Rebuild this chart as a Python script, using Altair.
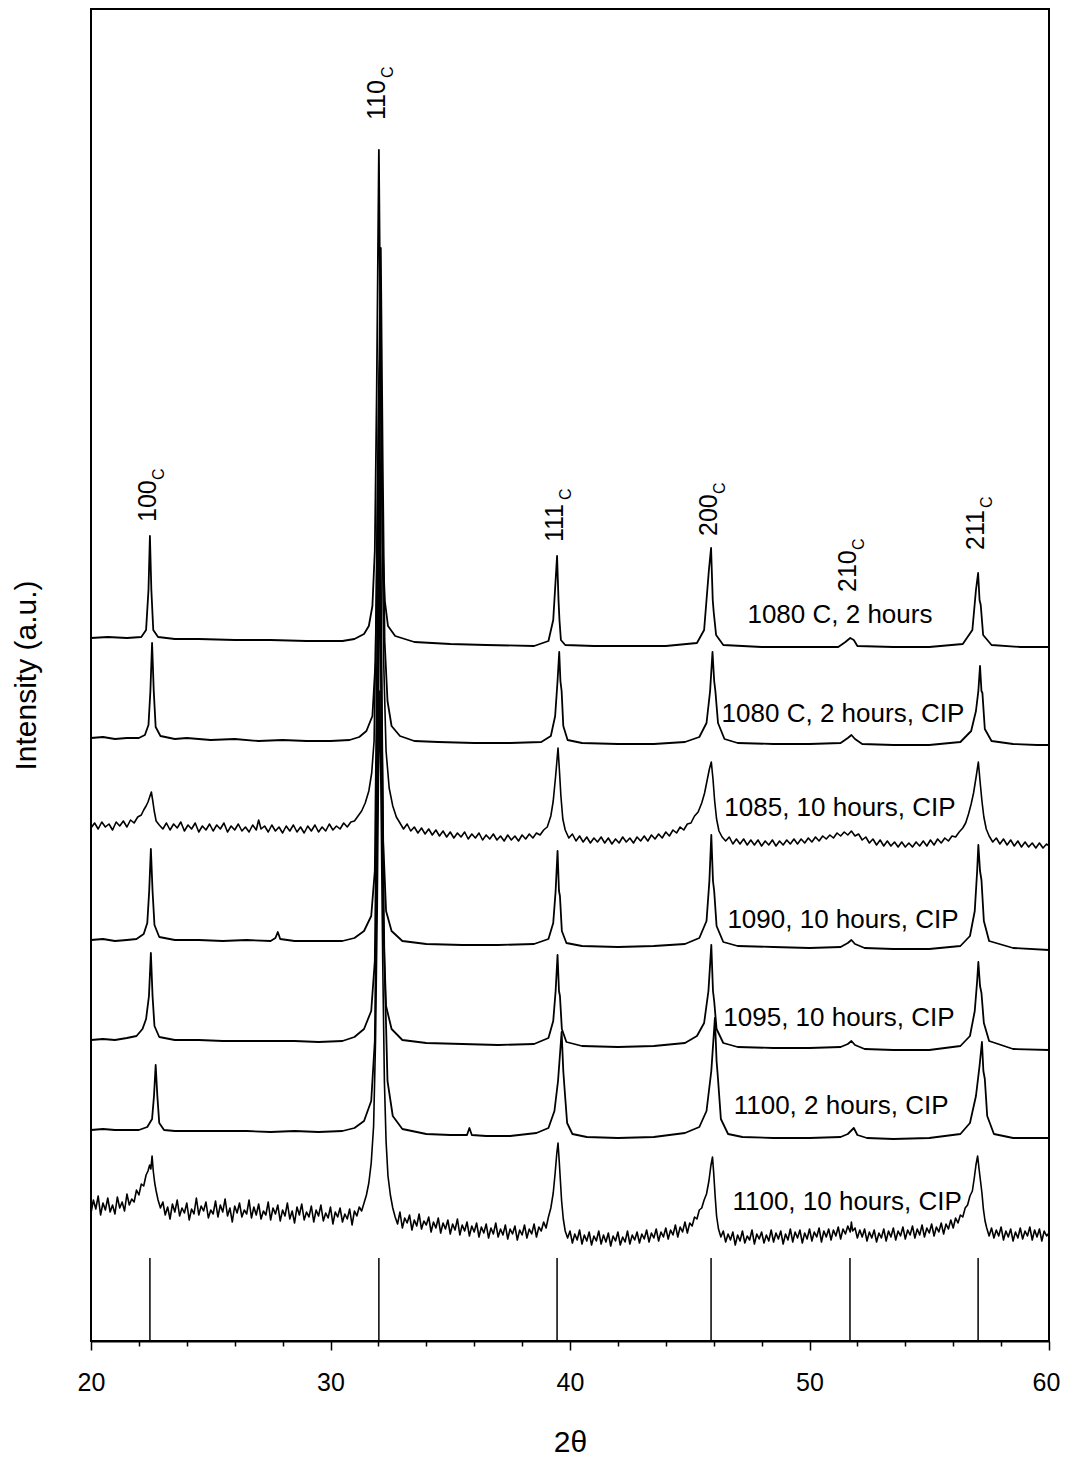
import altair as alt
import pandas as pd

FONT = "Liberation Sans"

# ---------------- data (2theta, intensity a.u., already stacked) ----------------
trace_names = [
    "1080 C, 2 hours",
    "1080 C, 2 hours, CIP",
    "1085, 10 hours, CIP",
    "1090, 10 hours, CIP",
    "1095, 10 hours, CIP",
    "1100, 2 hours, CIP",
    "1100, 10 hours, CIP",
]
trace_label_x = [51.27, 51.40, 51.27, 51.40, 51.23, 51.32, 51.57]
trace_label_v = [726, 627, 533, 421, 323, 235, 139]

t1 = [(20.0,703),(20.7,704),(21.5,703),(22.1,704),(22.3,711),(22.4,751),(22.46,805),(22.52,751),
      (22.6,711),(22.8,704),(23.5,702),(24.5,702),(26.0,701),(27.5,701),(29.0,700),(30.5,700),
      (31.0,702),(31.4,707),(31.6,715),(31.75,735),(31.85,790),(31.93,950),(32.02,1191),(32.1,960),
      (32.17,800),(32.27,740),(32.4,715),(32.7,705),(33.5,699),(35.0,697),(36.5,696),(38.5,695),
      (39.1,700),(39.3,721),(39.46,785),(39.52,741),(39.56,721),(39.62,701),(39.8,696),(41.0,695),
      (42.5,695),(44.0,695),(45.3,698),(45.6,711),(45.8,771),(45.89,793),(45.96,741),(46.0,729),
      (46.1,706),(46.4,696),(48.0,694),(49.5,694),(51.2,694),(51.5,699),(51.7,703),(51.85,701),
      (52.0,695),(53.5,694),(55.0,694),(56.4,697),(56.8,711),(56.95,751),(57.04,768),(57.1,741),
      (57.15,736),(57.25,706),(57.6,696),(58.8,694),(60.0,694)]

t2 = [(20.0,603),(20.5,604),(21.0,602),(21.5,603),(22.0,603),(22.25,606),(22.4,616),(22.48,650),
      (22.55,698),(22.62,650),(22.7,614),(22.9,605),(23.5,602),(24.0,603),(25.0,601),(26.0,602),
      (27.0,600),(28.0,601),(29.0,600),(30.0,600),(30.8,601),(31.2,604),(31.5,610),(31.75,625),
      (31.88,680),(31.98,880),(32.1,1093),(32.18,880),(32.26,700),(32.38,640),(32.55,615),(32.9,605),
      (33.5,600),(34.5,599),(36.0,598),(37.5,598),(38.8,599),(39.2,605),(39.38,625),(39.48,660),
      (39.55,689),(39.6,660),(39.65,650),(39.72,615),(39.9,601),(40.5,598),(42.0,597),(43.5,597),
      (44.8,599),(45.4,604),(45.7,618),(45.85,650),(45.95,689),(46.02,660),(46.07,650),(46.18,618),
      (46.45,602),(47.0,598),(48.5,597),(50.0,597),(51.3,598),(51.6,603),(51.75,606),(51.9,602),
      (52.2,597),(53.5,596),(55.0,596),(56.3,599),(56.75,610),(56.95,630),(57.05,650),(57.12,675),
      (57.18,650),(57.22,648),(57.32,612),(57.6,600),(58.5,597),(59.5,596),(60.0,596)]

t3 = [(20.0,513),(20.15,518),(20.3,512),(20.45,519),(20.6,514),(20.75,517),(20.9,511),(21.05,519),
      (21.2,515),(21.35,520),(21.5,514),(21.65,521),(21.8,518),(21.95,524),(22.1,526),(22.2,531),
      (22.3,535),(22.38,539),(22.45,544),(22.52,549),(22.58,540),(22.64,530),(22.72,520),(22.85,516),
      (23.0,512),(23.15,518),(23.3,511),(23.45,517),(23.6,513),(23.75,519),(23.9,510),(24.05,516),
      (24.2,512),(24.35,518),(24.5,509),(24.65,515),(24.8,511),(24.95,517),(25.1,510),(25.25,516),
      (25.4,512),(25.55,518),(25.7,509),(25.85,515),(26.0,511),(26.15,517),(26.3,510),(26.45,514),
      (26.6,509),(26.75,516),(26.9,511),(27.0,521),(27.1,512),(27.25,515),(27.4,509),(27.55,516),
      (27.7,510),(27.85,514),(28.0,508),(28.15,515),(28.3,510),(28.45,516),(28.6,509),(28.75,514),
      (28.9,508),(29.05,515),(29.2,510),(29.35,516),(29.5,509),(29.65,514),(29.8,510),(29.95,517),
      (30.1,511),(30.25,515),(30.4,512),(30.55,518),(30.7,514),(30.85,519),(31.0,520),(31.15,525),
      (31.3,530),(31.45,538),(31.6,550),(31.72,568),(31.82,600),(31.92,750),(32.02,950),(32.08,1000),
      (32.15,850),(32.22,680),(32.32,590),(32.45,553),(32.6,535),(32.75,524),(32.9,518),(33.05,512),
      (33.2,517),(33.35,510),(33.5,514),(33.65,508),(33.8,513),(33.95,507),(34.1,512),(34.25,506),
      (34.4,511),(34.55,505),(34.7,510),(34.85,504),(35.0,509),(35.15,503),(35.3,508),(35.45,504),
      (35.6,509),(35.75,502),(35.9,507),(36.05,503),(36.2,508),(36.35,501),(36.5,506),(36.65,502),
      (36.8,507),(36.95,501),(37.1,505),(37.25,500),(37.4,506),(37.55,501),(37.7,505),(37.85,500),
      (38.0,506),(38.15,502),(38.3,507),(38.45,503),(38.6,508),(38.75,506),(38.9,511),(39.05,514),
      (39.2,525),(39.3,540),(39.4,565),(39.5,593),(39.56,570),(39.62,545),(39.7,522),(39.8,511),
      (39.95,503),(40.1,507),(40.25,500),(40.4,505),(40.55,499),(40.7,504),(40.85,498),(41.0,503),
      (41.15,499),(41.3,504),(41.45,498),(41.6,503),(41.75,497),(41.9,502),(42.05,498),(42.2,504),
      (42.35,499),(42.5,503),(42.65,498),(42.8,504),(42.95,500),(43.1,505),(43.25,500),(43.4,506),
      (43.55,502),(43.7,507),(43.85,503),(44.0,509),(44.15,505),(44.3,511),(44.45,508),(44.6,514),
      (44.75,511),(44.9,517),(45.05,518),(45.2,525),(45.35,529),(45.5,538),(45.62,548),(45.72,560),
      (45.82,572),(45.9,579),(45.97,562),(46.04,540),(46.12,522),(46.22,510),(46.35,504),(46.5,500),
      (46.65,504),(46.8,497),(46.95,502),(47.1,497),(47.25,502),(47.4,496),(47.55,501),(47.7,496),
      (47.85,501),(48.0,495),(48.15,500),(48.3,496),(48.45,501),(48.6,495),(48.75,500),(48.9,496),
      (49.05,501),(49.2,497),(49.35,502),(49.5,497),(49.65,502),(49.8,498),(49.95,503),(50.1,499),
      (50.25,504),(50.4,500),(50.55,505),(50.7,502),(50.85,506),(51.0,503),(51.15,508),(51.3,505),
      (51.45,509),(51.6,506),(51.75,510),(51.9,505),(52.05,507),(52.2,501),(52.35,504),(52.5,498),
      (52.65,502),(52.8,496),(52.95,501),(53.1,495),(53.25,500),(53.4,495),(53.55,499),(53.7,494),
      (53.85,499),(54.0,494),(54.15,498),(54.3,494),(54.45,499),(54.6,495),(54.75,500),(54.9,495),
      (55.05,501),(55.2,496),(55.35,502),(55.5,498),(55.65,503),(55.8,500),(55.95,505),(56.1,504),
      (56.25,509),(56.4,513),(56.52,518),(56.64,527),(56.75,537),(56.85,548),(56.95,563),(57.05,579),
      (57.12,560),(57.2,540),(57.28,524),(57.38,512),(57.5,505),(57.65,499),(57.8,503),(57.95,497),
      (58.1,502),(58.25,496),(58.4,501),(58.55,495),(58.7,500),(58.85,494),(59.0,499),(59.15,494),
      (59.3,498),(59.45,493),(59.6,498),(59.75,493),(59.9,497),(60.0,495)]

t4 = [(20.0,401),(20.5,402),(21.0,400),(21.5,401),(21.9,402),(22.2,407),(22.35,418),(22.43,450),
      (22.5,492),(22.57,450),(22.65,416),(22.85,404),(23.5,401),(24.5,401),(25.5,400),(26.5,401),
      (27.5,400),(27.7,403),(27.8,409),(27.9,402),(28.5,400),(29.5,400),(30.5,400),(31.0,403),
      (31.4,410),(31.7,425),(31.85,470),(31.95,700),(32.05,950),(32.12,700),(32.2,500),(32.32,430),
      (32.55,410),(33.0,400),(34.0,397),(35.5,396),(37.0,396),(38.5,397),(39.1,402),(39.3,418),
      (39.4,450),(39.48,490),(39.54,450),(39.58,445),(39.66,410),(39.85,398),(40.5,395),(42.0,394),
      (43.5,395),(44.8,397),(45.4,403),(45.7,420),(45.82,460),(45.9,506),(45.97,460),(46.02,450),
      (46.12,415),(46.4,399),(47.0,395),(48.5,394),(50.0,393),(51.3,394),(51.6,398),(51.75,401),
      (51.9,397),(52.3,393),(53.5,392),(55.0,392),(56.3,395),(56.7,405),(56.9,430),(57.0,470),
      (57.05,496),(57.12,470),(57.18,461),(57.28,420),(57.5,400),(58.5,393),(60.0,391)]

t5 = [(20.0,301),(20.5,302),(21.0,301),(21.5,303),(21.9,305),(22.15,312),(22.3,322),(22.42,345),
      (22.5,388),(22.57,345),(22.65,315),(22.85,304),(23.5,301),(24.5,301),(25.5,300),(26.5,300),
      (27.5,300),(28.5,300),(29.5,299),(30.5,300),(31.0,304),(31.4,312),(31.7,330),(31.85,380),
      (31.95,600),(32.05,880),(32.12,620),(32.2,420),(32.32,335),(32.55,312),(33.0,301),(34.0,298),
      (35.5,297),(37.0,296),(38.5,297),(39.1,303),(39.3,320),(39.4,350),(39.48,386),(39.54,350),
      (39.58,345),(39.66,312),(39.85,299),(40.5,295),(42.0,294),(43.5,295),(44.8,298),(45.3,305),
      (45.6,318),(45.78,350),(45.9,396),(45.97,350),(46.02,340),(46.12,312),(46.4,298),(47.0,294),
      (48.5,293),(50.0,293),(51.3,294),(51.6,297),(51.75,300),(51.9,296),(52.3,292),(53.5,291),
      (55.0,291),(56.3,295),(56.7,305),(56.9,330),(57.0,360),(57.05,379),(57.12,355),(57.18,348),
      (57.28,318),(57.5,300),(58.5,292),(60.0,291)]

t6 = [(20.0,211),(20.5,212),(21.0,211),(21.5,211),(22.0,211),(22.35,214),(22.55,222),(22.63,245),
      (22.7,276),(22.77,245),(22.85,218),(23.05,211),(23.5,210),(24.5,210),(25.5,210),(26.5,210),
      (27.5,209),(28.5,210),(29.5,209),(30.5,210),(31.0,213),(31.4,220),(31.7,240),(31.85,300),
      (31.95,520),(32.07,800),(32.15,600),(32.25,380),(32.38,260),(32.6,225),(33.0,212),(34.0,207),
      (35.0,206),(35.7,206),(35.8,213),(35.9,206),(36.5,205),(37.5,205),(38.6,208),(39.1,213),
      (39.35,230),(39.5,260),(39.65,309),(39.72,270),(39.78,250),(39.88,218),(40.1,207),(40.7,204),
      (42.0,203),(43.5,204),(44.8,208),(45.4,214),(45.7,230),(45.9,270),(46.05,323),(46.12,280),
      (46.18,262),(46.3,222),(46.6,207),(47.2,204),(48.5,203),(50.0,203),(51.3,204),(51.6,207),
      (51.85,213),(52.0,206),(52.4,203),(53.5,202),(55.0,203),(56.3,207),(56.7,218),(56.95,245),
      (57.1,275),(57.2,299),(57.26,270),(57.32,262),(57.42,225),(57.7,207),(58.5,203),(60.0,203)]

t7 = [(20.0,128),(20.1,141),(20.2,132),(20.3,145),(20.4,126),(20.5,138),(20.6,131),(20.7,143),
      (20.8,129),(20.9,136),(21.0,127),(21.1,144),(21.2,133),(21.3,139),(21.4,130),(21.5,147),
      (21.6,136),(21.7,142),(21.8,139),(21.9,151),(22.0,146),(22.1,157),(22.2,155),(22.3,166),
      (22.38,170),(22.45,176),(22.5,172),(22.55,185),(22.6,170),(22.66,158),(22.72,150),(22.8,141),
      (22.9,133),(23.0,139),(23.1,126),(23.2,134),(23.3,122),(23.4,137),(23.5,129),(23.6,141),
      (23.7,125),(23.8,133),(23.9,128),(24.0,138),(24.1,121),(24.2,132),(24.3,127),(24.4,143),
      (24.5,126),(24.6,135),(24.7,130),(24.8,139),(24.9,123),(25.0,131),(25.1,127),(25.2,140),
      (25.3,124),(25.4,136),(25.5,129),(25.6,142),(25.7,125),(25.8,133),(25.9,119),(26.0,135),
      (26.1,128),(26.2,138),(26.3,124),(26.4,131),(26.5,127),(26.6,141),(26.7,123),(26.8,134),
      (26.9,126),(27.0,137),(27.1,122),(27.2,130),(27.3,126),(27.4,139),(27.5,121),(27.6,133),
      (27.7,127),(27.8,136),(27.9,120),(28.0,131),(28.1,125),(28.2,138),(28.3,122),(28.4,130),
      (28.5,118),(28.6,134),(28.7,126),(28.8,137),(28.9,121),(29.0,129),(29.1,124),(29.2,135),
      (29.3,119),(29.4,131),(29.5,125),(29.6,136),(29.7,120),(29.8,128),(29.9,123),(30.0,134),
      (30.1,117),(30.2,129),(30.3,124),(30.4,133),(30.5,119),(30.6,127),(30.7,122),(30.8,132),
      (30.9,116),(31.0,130),(31.1,125),(31.2,134),(31.3,130),(31.4,138),(31.5,146),(31.6,158),
      (31.7,178),(31.8,215),(31.88,300),(31.95,430),(32.0,560),(32.06,650),(32.12,520),(32.18,380),
      (32.25,260),(32.32,200),(32.4,165),(32.5,146),(32.6,133),(32.7,124),(32.8,117),(32.9,129),
      (33.0,113),(33.1,123),(33.2,118),(33.3,126),(33.4,111),(33.5,121),(33.6,115),(33.7,127),
      (33.8,112),(33.9,120),(34.0,116),(34.1,124),(34.2,109),(34.3,119),(34.4,113),(34.5,123),
      (34.6,108),(34.7,118),(34.8,112),(34.9,121),(35.0,107),(35.1,117),(35.2,111),(35.3,122),
      (35.4,106),(35.5,116),(35.6,110),(35.7,119),(35.8,105),(35.9,115),(36.0,109),(36.1,118),
      (36.2,104),(36.3,114),(36.4,108),(36.5,117),(36.6,103),(36.7,113),(36.8,107),(36.9,118),
      (37.0,104),(37.1,112),(37.2,106),(37.3,116),(37.4,102),(37.5,112),(37.6,107),(37.7,115),
      (37.8,101),(37.9,111),(38.0,106),(38.1,116),(38.2,103),(38.3,112),(38.4,107),(38.5,117),
      (38.6,104),(38.7,114),(38.8,110),(38.9,119),(39.0,113),(39.1,124),(39.2,133),(39.3,148),
      (39.38,168),(39.45,188),(39.5,198),(39.55,180),(39.6,160),(39.65,140),(39.72,122),(39.8,110),
      (39.9,103),(40.0,110),(40.1,98),(40.2,107),(40.3,101),(40.4,111),(40.5,97),(40.6,106),
      (40.7,100),(40.8,109),(40.9,96),(41.0,105),(41.1,100),(41.2,110),(41.3,97),(41.4,106),
      (41.5,99),(41.6,108),(41.7,95),(41.8,105),(41.9,100),(42.0,109),(42.1,96),(42.2,104),
      (42.3,99),(42.4,110),(42.5,97),(42.6,106),(42.7,101),(42.8,109),(42.9,98),(43.0,107),
      (43.1,102),(43.2,111),(43.3,99),(43.4,108),(43.5,103),(43.6,112),(43.7,100),(43.8,109),
      (43.9,104),(44.0,113),(44.1,102),(44.2,111),(44.3,106),(44.4,116),(44.5,104),(44.6,114),
      (44.7,109),(44.8,119),(44.9,108),(45.0,118),(45.1,115),(45.2,124),(45.3,122),(45.4,131),
      (45.5,133),(45.6,141),(45.7,147),(45.8,160),(45.88,175),(45.95,184),(46.0,168),(46.06,145),
      (46.12,125),(46.2,112),(46.3,104),(46.4,110),(46.5,99),(46.6,107),(46.7,101),(46.8,109),
      (46.9,96),(47.0,106),(47.1,100),(47.2,110),(47.3,98),(47.4,105),(47.5,101),(47.6,111),
      (47.7,97),(47.8,107),(47.9,102),(48.0,109),(48.1,98),(48.2,106),(48.3,100),(48.4,111),
      (48.5,99),(48.6,108),(48.7,102),(48.8,110),(48.9,97),(49.0,107),(49.1,101),(49.2,112),
      (49.3,99),(49.4,109),(49.5,103),(49.6,111),(49.7,98),(49.8,108),(49.9,102),(50.0,112),
      (50.1,100),(50.2,109),(50.3,104),(50.4,113),(50.5,99),(50.6,110),(50.7,104),(50.8,112),
      (50.9,101),(51.0,111),(51.1,105),(51.2,114),(51.3,102),(51.4,112),(51.5,107),(51.6,115),
      (51.7,109),(51.75,119),(51.8,110),(51.9,113),(52.0,103),(52.1,111),(52.2,104),(52.3,112),
      (52.4,100),(52.5,109),(52.6,103),(52.7,111),(52.8,99),(52.9,108),(53.0,103),(53.1,112),
      (53.2,100),(53.3,110),(53.4,104),(53.5,113),(53.6,101),(53.7,110),(53.8,105),(53.9,114),
      (54.0,102),(54.1,111),(54.2,106),(54.3,115),(54.4,103),(54.5,112),(54.6,106),(54.7,116),
      (54.8,104),(54.9,113),(55.0,108),(55.1,117),(55.2,105),(55.3,114),(55.4,109),(55.5,118),
      (55.6,107),(55.7,117),(55.8,112),(55.9,121),(56.0,113),(56.1,123),(56.2,118),(56.3,126),
      (56.4,124),(56.5,133),(56.6,136),(56.7,145),(56.8,150),(56.88,163),(56.95,176),(57.02,185),
      (57.08,172),(57.14,160),(57.2,148),(57.26,132),(57.33,120),(57.4,113),(57.5,105),(57.6,113),
      (57.7,103),(57.8,111),(57.9,105),(58.0,114),(58.1,101),(58.2,110),(58.3,104),(58.4,112),
      (58.5,100),(58.6,109),(58.7,103),(58.8,113),(58.9,102),(59.0,110),(59.1,105),(59.2,114),
      (59.3,101),(59.4,111),(59.5,104),(59.6,112),(59.7,100),(59.8,110),(59.9,105),(60.0,108)]

traces = [t1, t2, t3, t4, t5, t6, t7]
trace_width = [1.8, 1.8, 1.6, 1.8, 1.8, 1.8, 1.6]

# reference pattern (sticks at bottom)
ref_pos = [22.46, 32.02, 39.46, 45.89, 51.69, 57.04]
ref_low = [0, 0, 0, 0, 0, 0]
ref_high = [83, 83, 83, 83, 83, 83]

# hkl labels
peak_hkl = ["100", "110", "111", "200", "210", "211"]
peak_label_x = [22.46, 32.02, 39.46, 45.89, 51.69, 57.04]
peak_label_v = [819, 1221, 799, 805, 749, 791]
peak_sub = ["C", "C", "C", "C", "C", "C"]

major_ticks = [20, 30, 40, 50, 60]
minor_ticks = [22, 24, 26, 28, 32, 34, 36, 38, 42, 44, 46, 48, 52, 54, 56, 58]

# ---------------- tables ----------------
rows = []
for name, pts, w in zip(trace_names, traces, trace_width):
    for x, v in pts:
        rows.append({"trace": name, "x": x, "v": v, "w": w})
df = pd.DataFrame(rows)

ref_df = pd.DataFrame({"x": ref_pos, "lo": ref_low, "hi": ref_high})
hkl_df = pd.DataFrame({"x": peak_label_x, "v": peak_label_v, "hkl": peak_hkl, "sub": peak_sub})
lab_df = pd.DataFrame({"x": trace_label_x, "v": trace_label_v, "name": trace_names})
minor_df = pd.DataFrame({"x": minor_ticks})

xscale = alt.Scale(domain=[20, 60], nice=False, zero=False)
yscale = alt.Scale(domain=[0, 1332], nice=False, zero=False)

x_axis = alt.Axis(values=major_ticks, orient="bottom", title="2θ", grid=False,
                  tickSize=9, tickWidth=1.5, tickColor="black",
                  domainColor="black", domainWidth=2,
                  labelFont=FONT, labelFontSize=25, labelColor="black", labelPadding=20,
                  labelOffset={"condition": {"test": "datum.value === 60", "value": -3}, "value": 0},
                  labelFlush=False, titleFont=FONT, titleFontSize=30, titleFontWeight="normal",
                  titleColor="black", titlePadding=32, format="d")
y_axis = alt.Axis(title="Intensity (a.u.)", labels=False, ticks=False, domain=False, grid=False,
                  tickSize=0, titleFont=FONT, titleFontSize=30, titleFontWeight="normal",
                  titleColor="black", titlePadding=50)

lines = alt.Chart(df).mark_line(color="black", strokeJoin="round").encode(
    x=alt.X("x:Q", scale=xscale, axis=x_axis),
    y=alt.Y("v:Q", scale=yscale, axis=y_axis),
    detail="trace:N",
    strokeWidth=alt.StrokeWidth("w:Q", scale=None, legend=None),
    order="x:Q",
)

sticks = alt.Chart(ref_df).mark_rule(color="black", strokeWidth=1.5).encode(
    x=alt.X("x:Q", scale=xscale),
    y=alt.Y("lo:Q", scale=yscale),
    y2="hi:Q",
)

hkl = alt.Chart(hkl_df).mark_text(angle=270, align="left", baseline="alphabetic", dy=6,
                                   font=FONT, fontSize=25, color="black").encode(
    x=alt.X("x:Q", scale=xscale),
    y=alt.Y("v:Q", scale=yscale),
    text="hkl:N",
)

sub = alt.Chart(hkl_df).mark_text(angle=270, align="left", baseline="alphabetic", dx=42, dy=14,
                                   font=FONT, fontSize=16, color="black").encode(
    x=alt.X("x:Q", scale=xscale),
    y=alt.Y("v:Q", scale=yscale),
    text="sub:N",
)

labels = alt.Chart(lab_df).mark_text(align="center", baseline="middle",
                                      font=FONT, fontSize=26, color="black").encode(
    x=alt.X("x:Q", scale=xscale),
    y=alt.Y("v:Q", scale=yscale),
    text="name:N",
)

main = alt.layer(lines, sticks, hkl, sub, labels)

minor = alt.Chart(minor_df).mark_tick(opacity=0).encode(
    x=alt.X("x:Q", scale=xscale,
            axis=alt.Axis(values=minor_ticks, orient="bottom", labels=False, domain=False,
                          grid=False, tickSize=5, tickWidth=1.5, tickColor="black", title="")),
)

chart = alt.layer(main, minor).resolve_axis(x="independent").properties(
    width=958, height=1332,
    padding={"left": 83, "top": 1, "right": 12, "bottom": 120},
    autosize="none",
    background="white",
).configure_view(stroke="black", strokeWidth=2)

chart.save("out.html", embed_options={"renderer": "svg", "actions": False})
